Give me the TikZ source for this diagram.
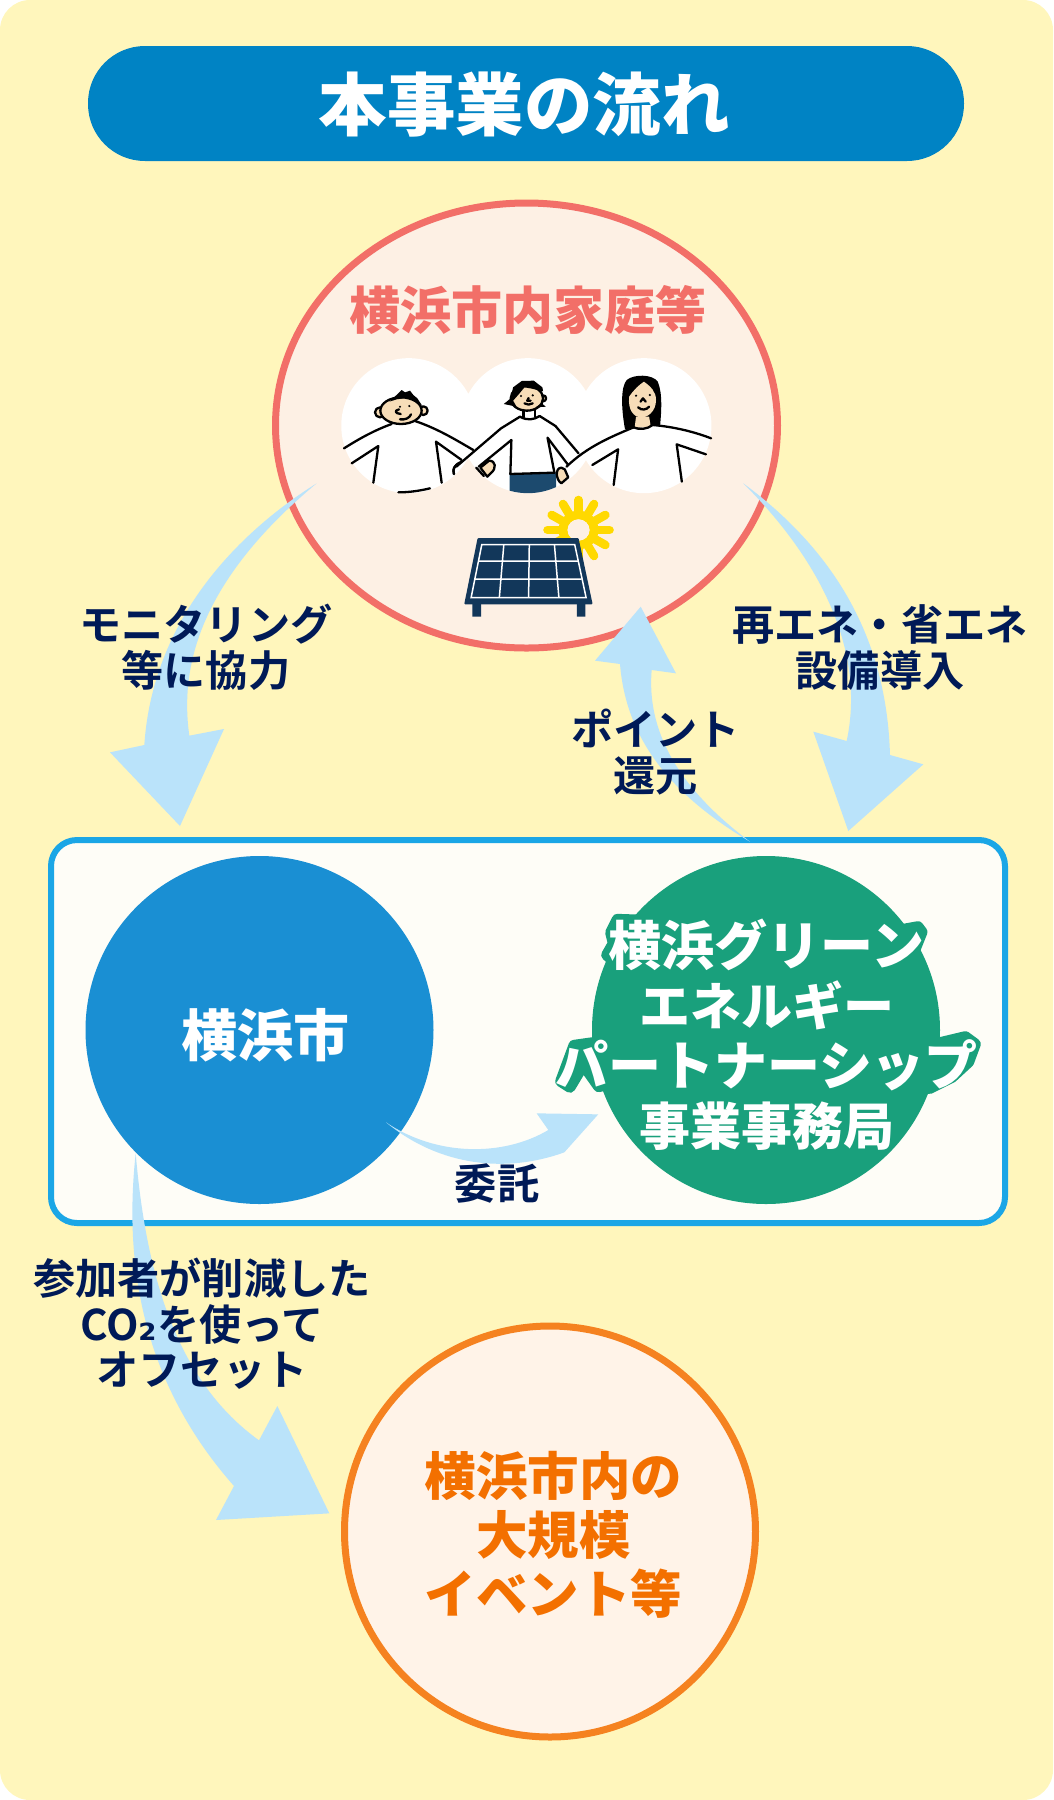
\documentclass[tikz,border=0pt]{standalone}
\usepackage{fontspec}
\usetikzlibrary{shapes.geometric}
\setmainfont{Noto Sans CJK JP}[BoldFont={Noto Sans CJK JP Bold}]
\newfontfamily\blk{Noto Sans CJK JP Black}
\newfontfamily\subf{DejaVu Sans}
\definecolor{bgy}{HTML}{FFF6BC}
\definecolor{pill}{HTML}{0083C4}
\definecolor{homeL}{HTML}{F26F68}
\definecolor{homeF}{HTML}{FDF0E4}
\definecolor{boxL}{HTML}{1BA6E6}
\definecolor{boxF}{HTML}{FEFDF7}
\definecolor{cityC}{HTML}{1A8FD3}
\definecolor{greenC}{HTML}{19A07C}
\definecolor{orL}{HTML}{F58220}
\definecolor{orF}{HTML}{FFF3E8}
\definecolor{orT}{HTML}{F37000}
\definecolor{navy}{HTML}{001A57}
\definecolor{flowC}{HTML}{BAE3FA}
\definecolor{skin}{HTML}{F7DDB8}
\definecolor{pants}{HTML}{1C4A6E}
\definecolor{panel}{HTML}{12375A}
\definecolor{sun}{HTML}{FFD900}
\newcommand\fsz[1]{\fontsize{#1}{60}\selectfont}
\tikzset{
  lab/.style={text=navy,font=\bfseries\fontsize{42.2}{46}\selectfont,align=center,inner sep=0pt},
  flow/.style={fill=flowC},
  circ/.style={circle,inner sep=0pt,minimum size=348pt},
  halo/.style={fill=greenC,draw=greenC,line width=11pt,line join=round},
  ink/.style={draw=black,line width=2.3pt,line cap=round,line join=round},
  crop/.style={x=0.33333pt,y=-0.33333pt},
  cropw/.style={x=0.34436pt,y=-0.33333pt},
}
\begin{document}
\begin{tikzpicture}[x=1pt,y=-1pt]
\useasboundingbox (0,0) rectangle (1053,1800);
\fill[bgy,rounded corners=30pt] (0,0) rectangle (1053,1800);
% title
\node (title) [fill=pill,rounded corners=57pt,minimum width=876pt,minimum height=115pt,inner sep=0pt] at (526,103.5) {};
\node (titletext) [text=white,inner sep=0pt,font=\blk\fontsize{68.5}{72}\selectfont] at (524,105) {本事業の流れ};
% household ellipse
\node (home) [ellipse,draw=homeL,fill=homeF,line width=7pt,minimum width=502pt,minimum height=445pt,inner sep=0pt] at (526.5,425.5) {};
\node (homelabel) [text=homeL,inner sep=0pt,font=\blk\fontsize{51}{54}\selectfont] at (527.5,310) {横浜市内家庭等};
% people and panel (coordinates read from a crop)
\begin{scope}[shift={(260,190)},cropw]
  \fill[white] (432,707) circle[radius=67.5pt] (778,707) circle[radius=67.5pt] (1115,707) circle[radius=67.5pt];
  % sun
  \foreach \a in {0,30,...,330}
    \draw[sun,line width=8.6pt,line cap=round] (925,1020) ++(\a:45) -- ++(\a:45);
  \fill[sun,even odd rule] (925,1020) circle (58) (925,1020) circle (32);
  \fill[homeF] (925,1020) circle (32);
  % panel
  \fill[panel,rounded corners=1pt] (632,1044) -- (925,1044) -- (966,1243) -- (593,1243) -- cycle;
  \fill[panel] (617,1240) rectangle (642,1280) (920,1240) rectangle (945,1280);
  \draw[white,line width=1.5pt] (644,1064) -- (914,1064) -- (947,1223) -- (613,1223) -- cycle;
  \draw[white,line width=1.5pt] (708,1064) -- (695,1223) (782,1064) -- (780,1223) (855,1064) -- (868,1223)
    (636,1113) -- (923,1113) (625,1167) -- (934,1167);
  % pants and person 2 lower
  \begin{scope}
    \clip (778,707) circle[radius=67.5pt];
    \fill[pants] (725,852) -- (860,848) -- (860,910) -- (725,910) -- cycle;
  \end{scope}
  \draw[ink] (727,852) -- (855,848);
\end{scope}
% person 1
\begin{scope}[shift={(330,360)},crop]
  \filldraw[ink,fill=skin] (150,157) circle (15) (280,152) circle (13);
  \filldraw[ink,fill=skin] (213,152) ellipse (62 and 40);
  \fill[black] (178,125) -- (205,100) -- (215,90) -- (225,97) -- (240,92) -- (250,105) -- (262,115) -- (277,138) -- (255,122) -- (225,114) -- (200,118) -- cycle;
  \fill (210,140) circle (3.5) (238,138) circle (3.5);
  \draw[ink] (207,148) .. controls (192,152) and (195,160) .. (212,162);
  \draw[ink] (210,178) .. controls (225,180) and (238,175) .. (243,163);
  \draw[ink] (185,192) .. controls (130,212) and (85,238) .. (42,265);
  \draw[ink] (255,183) .. controls (320,205) and (370,235) .. (430,270);
  \draw[ink] (65,310) -- (145,258) -- (130,368);
  \draw[ink] (395,300) -- (318,245) -- (335,368);
  \draw[ink] (205,397) .. controls (240,397) and (270,392) .. (300,385);
  \draw[ink] (395,305) .. controls (370,315) and (368,330) .. (372,342);
\end{scope}
% person 2
\begin{scope}[shift={(260,190)},cropw]
  \filldraw[ink,fill=skin] (822,625) circle (9);
  \filldraw[ink,fill=skin] (775,625) ellipse (47 and 37);
  \fill[black] (708,642) -- (728,625) -- (735,592) -- (760,573) -- (795,572) -- (820,592) -- (822,604) -- (790,596) -- (768,592) -- (752,612) -- (735,632) -- (745,650) -- cycle;
  \fill[black] (800,652) -- (830,650) -- (818,640) -- cycle;
  \fill (758,618) circle (3.5) (792,616) circle (3.5);
  \draw[ink] (780,624) -- (776,632) -- (786,632);
  \draw[ink] (768,640) .. controls (775,645) and (785,645) .. (792,640);
  \draw[ink] (765,660) -- (765,682) (798,660) -- (798,680);
  \draw[ink] (755,680) .. controls (775,692) and (795,690) .. (812,678);
  \draw[ink] (755,680) -- (700,715) -- (570,830);
  \draw[ink] (570,825) .. controls (560,835) and (560,845) .. (563,852);
  \draw[ink] (812,678) -- (858,708) -- (925,790);
  \draw[ink] (635,830) -- (730,750) -- (727,852);
  \draw[ink] (895,825) -- (835,743) -- (855,848);
  \filldraw[ink,fill=skin] (640,833) -- (665,812) .. controls (685,812) and (688,835) .. (670,850) -- (660,860) -- cycle;
  \draw[ink] (628,833) -- (650,858);
  \filldraw[ink,fill=skin] (875,833) .. controls (855,835) and (860,870) .. (875,880) -- (895,862) -- (885,838) -- cycle;
\end{scope}
% person 3
\begin{scope}[shift={(260,190)},cropw]
  \fill[black] (1060,718) .. controls (1048,650) and (1048,590) .. (1065,570) .. controls (1085,552) and (1140,552) .. (1155,575) .. controls (1170,610) and (1165,670) .. (1162,705) -- cycle;
  \fill[skin] (1092,680) -- (1130,680) -- (1135,712) -- (1088,712) -- cycle;
  \fill[skin] (1072,620) .. controls (1085,600) and (1100,585) .. (1115,575) .. controls (1135,590) and (1150,605) .. (1150,630) .. controls (1150,665) and (1125,683) .. (1105,683) .. controls (1085,680) and (1068,660) .. (1072,620) -- cycle;
  \fill (1092,617) circle (3.5) (1132,615) circle (3.5);
  \draw[ink] (1105,635) -- (1112,625) -- (1120,635);
  \draw[ink] (1098,652) .. controls (1108,662) and (1122,660) .. (1130,650);
  \draw[ink] (1085,712) .. controls (1100,720) and (1125,718) .. (1140,705);
  \draw[ink] (1085,712) .. controls (1020,740) and (950,770) .. (890,830);
  \draw[ink] (1140,705) .. controls (1200,710) and (1260,725) .. (1310,745);
  \draw[ink] (965,825) -- (1040,778) -- (1027,885);
  \draw[ink] (1295,793) -- (1210,763) -- (1225,875);
\end{scope}
% partner box
\node (box) [draw=boxL,fill=boxF,line width=6pt,rounded corners=26pt,minimum width=954pt,minimum height=383pt,inner sep=0pt] at (528,1031.5) {};
\node (city) [circ,fill=cityC] at (259.5,1030) {};
\node (office) [circ,fill=greenC] at (766,1030) {};
% halo of the office text where it leaves the circle
\begin{scope}[shift={(540,900)},crop]
  \filldraw[halo] (290,60) -- (232,58) -- (212,98) -- (220,130) -- (200,165) -- (236,198) -- (300,190) -- cycle;
  \filldraw[halo] (1090,88) -- (1134,80) -- (1146,96) -- (1126,146) -- (1090,185) -- cycle;
  \filldraw[halo] (180,425) -- (102,436) -- (62,544) -- (90,562) -- (130,495) -- (176,560) -- (216,550) -- (200,480) -- cycle;
  \filldraw[halo] (1150,440) -- (1276,410) -- (1306,432) -- (1286,486) -- (1236,532) -- (1168,566) -- (1146,520) -- cycle;
\end{scope}
% event circle
\node (event) [circle,draw=orL,fill=orF,line width=7pt,minimum size=411pt,inner sep=0pt] at (550,1531.5) {};
% arrows
\coordinate (a1s) at (316.7,483.3); \coordinate (a1t) at (180,826);
\coordinate (a2s) at (743.3,483.3); \coordinate (a2t) at (848.3,831);
\coordinate (a3s) at (750,841.7); \coordinate (a3t) at (640.7,606.7);
\coordinate (a4s) at (386,1122.3); \coordinate (a4t) at (598.3,1114.3);
\coordinate (a5s) at (135.7,1153.3); \coordinate (a5t) at (329.3,1513.3);
\begin{scope}[shift={(90,470)},crop]
  \fill[flow] (a1s) .. controls (480,165) and (190,420) .. (163,825) -- (60,847) -- (a1t) -- (402,777) -- (298,797) .. controls (270,600) and (320,340) .. (a1s) -- cycle;
\end{scope}
\begin{scope}[shift={(570,470)},crop]
  \fill[flow] (a2s) .. controls (790,240) and (950,500) .. (960,855) -- (1060,883) -- (a2t) -- (730,785) -- (830,813) .. controls (880,580) and (790,310) .. (a2s) -- cycle;
  \fill[flow] (a3s) .. controls (330,990) and (170,830) .. (150,582) -- (75,572) -- (a3t) -- (318,610) -- (245,600) .. controls (230,780) and (320,950) .. (a3s) -- cycle;
\end{scope}
\begin{scope}[shift={(330,1080)},crop]
  \fill[flow] (a4s) .. controls (320,230) and (520,230) .. (655,150) -- (620,100) -- (805,103) -- (a4t) -- (703,217) .. controls (530,280) and (330,260) .. (a4s) -- cycle;
\end{scope}
\begin{scope}[shift={(100,1150)},crop]
  \fill[flow] (a5s) .. controls (70,350) and (130,700) .. (402,1008) -- (348,1110) -- (688,1090) -- (532,768) -- (477,871) .. controls (240,700) and (140,400) .. (a5s) -- cycle;
\end{scope}
% labels
\node (l1) [lab] at (206,647) {モニタリング\\等に協力};
\node (l2) [lab] at (880,647.5) {再エネ・省エネ\\設備導入};
\node (l3) [lab] at (655.5,752.5) {ポイント\\還元};
\node (l4) [lab] at (497,1183) {委託};
\node (l5) [lab,font=\bfseries\fontsize{42.2}{45.5}\selectfont] at (202,1324) {参加者が削減した\\CO{\subf\bfseries ₂}を使って\\オフセット};
\node (citylabel) [text=white,inner sep=0pt,font=\blk\fontsize{56}{58}\selectfont] at (265,1035) {横浜市};
\node (officelabel) [text=white,inner sep=0pt,align=center,font=\blk\fontsize{51}{60}\selectfont] at (766.5,1035) {{\fsz{53}横浜グリーン}\\エネルギー\\{\fsz{53}パートナーシップ}\\事業事務局};
\node (eventlabel) [text=orT,inner sep=0pt,align=center,font=\blk\fontsize{51.5}{59}\selectfont] at (553.5,1534.5) {横浜市内の\\大規模\\イベント等};
\end{tikzpicture}
\end{document}
